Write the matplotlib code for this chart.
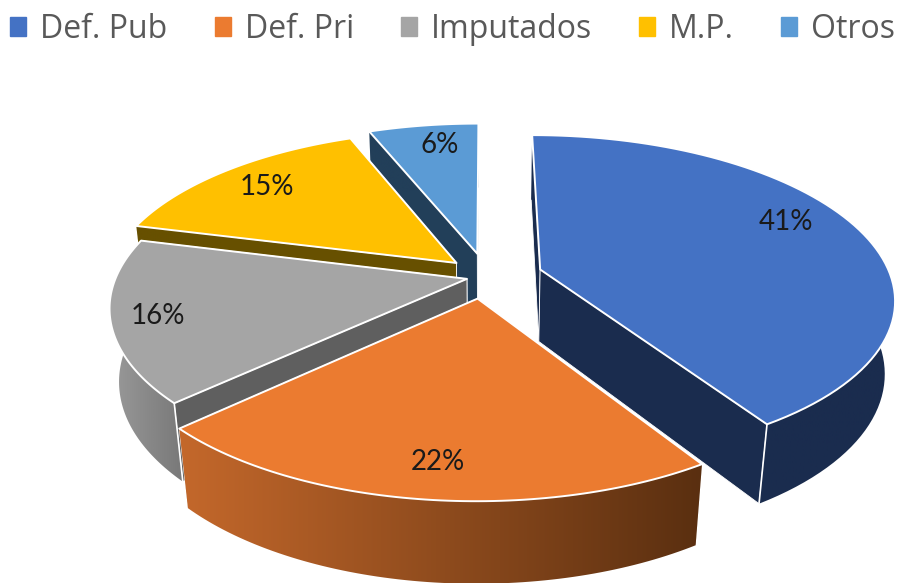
import numpy as np
import matplotlib
matplotlib.use('Agg')
import matplotlib.pyplot as plt
from matplotlib.patches import Patch, Polygon
from matplotlib.colors import LinearSegmentedColormap

labels = ['Def. Pub', 'Def. Pri', 'Imputados', 'M.P.', 'Otros']
values = [41, 22, 16, 15, 6]

top_colors = ['#4472C4', '#EB7B30', '#A5A5A5', '#FFC000', '#5B9BD5']
wall_colors = ['#1A2C4E', '#5C3010', '#5F5F5F', '#675000', '#223F59']
side_left = ['#1A2C4E', '#C4682B', '#9A9A9A', '#675000', '#223F59']
side_right = ['#1A2C4E', '#5A2F10', '#787878', '#675000', '#223F59']
explode = [0.165, 0.165, 0.053, 0.11, 0.12]
nudge_y = [-0.03, 0, -0.03, -0.015, 0]
label_pos = [(786, 222), (438, 462), (158, 316), (267, 187), (440, 145)]
draw_order = [4, 3, 2, 1, 0]

# view of the pie, in figure pixels
cx, cy, rx, ry, depth = 485, 272, 349, 158, 74
k, m = 0.17, 0.025


def proj(x, y, z=0):
    w = 1 + k * y + m * z
    return cx + rx * x / w, cy + (depth * z - ry * y) / w


fig = plt.figure(figsize=(9, 5.83), dpi=100)
ax = fig.add_axes([0, 0, 1, 1])

edges = np.cumsum([0] + values) / sum(values) * 2 * np.pi

for i in draw_order:
    t = np.linspace(edges[i], edges[i + 1], 80)
    mid = (edges[i] + edges[i + 1]) / 2
    ox = explode[i] * np.sin(mid)
    oy = explode[i] * np.cos(mid) + nudge_y[i]
    arc_x, arc_y = ox + np.sin(t), oy + np.cos(t)

    # inner faces, the far one first
    ends = [(arc_x[0], arc_y[0]), (arc_x[-1], arc_y[-1])]
    for a, b in sorted(ends, key=lambda e: -e[1]):
        pts = [proj(ox, oy), proj(a, b), proj(a, b, 1), proj(ox, oy, 1)]
        ax.add_patch(Polygon(pts, fc=wall_colors[i], ec='white', lw=0.6, zorder=2))

    # outer face with its gradient
    tx, ty = proj(arc_x, arc_y)
    bx, by = proj(arc_x, arc_y, 1)
    shell = np.column_stack([np.r_[tx, bx[::-1]], np.r_[ty, by[::-1]]])
    clip = Polygon(shell, transform=ax.transData, fc='none', ec='none')
    ax.add_patch(clip)
    cmap = LinearSegmentedColormap.from_list('s', [side_left[i], side_right[i]])
    img = ax.imshow(np.linspace(0, 1, 256).reshape(1, -1), cmap=cmap, aspect='auto',
                    extent=(shell[:, 0].min(), shell[:, 0].max(), shell[:, 1].max(), shell[:, 1].min()),
                    zorder=2)
    img.set_clip_path(clip)

    # top face
    top = [proj(ox, oy)] + list(zip(tx, ty))
    ax.add_patch(Polygon(top, fc=top_colors[i], ec='white', lw=1.4, joinstyle='round', zorder=2))

    # corner line between the two visible side faces
    if i == 0:
        ax.plot([tx[-1], bx[-1]], [ty[-1], by[-1]], color='white', lw=1.2, zorder=2)
    if i == 2:
        ax.plot([tx[0], bx[0]], [ty[0], by[0]], color='white', lw=1.2, zorder=2)

for v, (px, py) in zip(values, label_pos):
    ax.text(px, py, f'{v}%', ha='center', va='center', fontsize=20, family='Lato',
            color='#1a1a1a', zorder=5)

handles = [Patch(color=c) for c in top_colors]
ax.legend(handles, labels, ncols=5, loc='upper center', bbox_to_anchor=(0.503, 1.0), frameon=False,
          prop={'family': 'Open Sans', 'size': 23}, labelcolor='#595959', handlelength=0.5,
          handleheight=0.5, handletextpad=0.44, columnspacing=1.47, borderpad=0.1, borderaxespad=0.3)

ax.set_xlim(0, 900)
ax.set_ylim(583, 0)
ax.axis('off')
fig.savefig('out.png', dpi=100)
